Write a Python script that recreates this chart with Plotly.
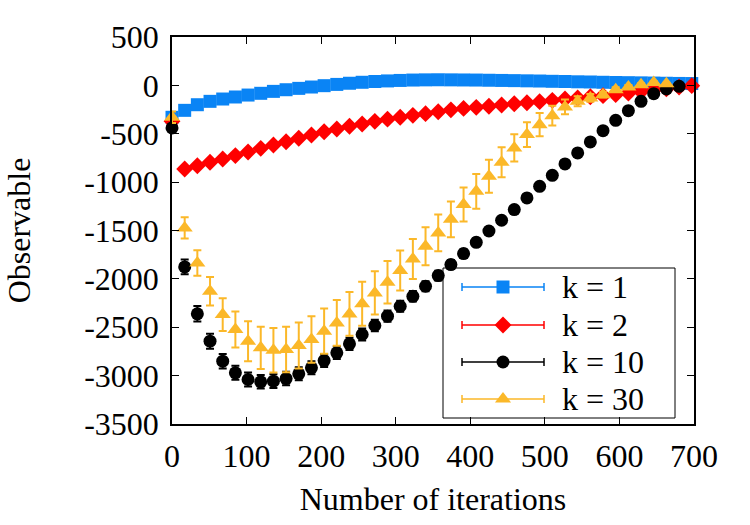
import plotly.graph_objects as go

iterations = [0, 17, 34, 51, 68, 85, 102, 119, 136, 153, 170, 187, 204, 221,
              238, 255, 272, 289, 306, 323, 340, 357, 374, 391, 408, 425, 442,
              459, 476, 493, 510, 527, 544, 561, 578, 595, 612, 629, 646, 663,
              680, 697]

k1_vals = [-330, -258, -200, -165, -141, -120, -100, -82, -62, -45, -31, -17,
           -3, 10, 22, 32, 40, 46, 51, 55, 57, 58, 57, 56, 55, 53, 51, 49,
           47, 45, 42, 40, 37, 35, 32, 30, 28, 26, 24, 22, 20, 19]
k1_err = [8] * 42

k2_vals = [-370, -864, -830, -795, -761, -726, -688, -651, -616, -582, -547,
           -513, -480, -451, -423, -399, -372, -349, -330, -310, -292, -272,
           -253, -238, -227, -215, -203, -190, -180, -168, -155, -141, -130,
           -117, -106, -95, -80, -63, -47, -35, -17, -3]
k2_err = [10] * 42

k10_vals = [-440, -1876, -2361, -2644, -2851, -2971, -3040, -3064, -3057,
            -3030, -2981, -2919, -2844, -2764, -2671, -2575, -2482, -2386,
            -2283, -2180, -2076, -1966, -1852, -1738, -1622, -1505, -1394,
            -1284, -1163, -1043, -930, -812, -698, -585, -468, -361, -261,
            -165, -86, -37, -10]
k10_err = [30, 75, 80, 77, 75, 72, 72, 70, 70, 70, 68, 68, 66, 65, 63, 62,
           60, 58, 56, 54, 52, 50, 47, 44, 41, 38, 35, 32, 30, 28, 26, 24, 22,
           20, 18, 16, 14, 12, 10, 10, 10]

k30_vals = [-330, -1473, -1835, -2128, -2369, -2524, -2644, -2713, -2737,
            -2730, -2689, -2627, -2541, -2455, -2362, -2258, -2145, -2035,
            -1914, -1794, -1663, -1525, -1385, -1232, -1095, -940, -795, -647,
            -509, -406, -313, -223, -165, -130, -96, -44, -17, 7, 31, 18]
k30_err = [60, 110, 132, 148, 169, 186, 207, 219, 230, 235, 238, 240, 234,
           236, 227, 227, 224, 219, 207, 207, 196, 190, 184, 176, 180, 170,
           155, 141, 127, 120, 103, 76, 52, 40, 30, 25, 20, 15, 12, 10]

x_ticks = [0, 100, 200, 300, 400, 500, 600, 700]
y_ticks = [500, 0, -500, -1000, -1500, -2000, -2500, -3000, -3500]
y_tick_text = ["500", "0", "-500", "-1000", "-1500", "-2000", "-2500",
               "-3000", "-3500"]

labels = ["k = 1", "k = 2", "k = 10", "k = 30"]
colors = ["#0a84f5", "#ff0000", "#000000", "#fbb829"]
symbols = ["square", "diamond", "circle", "triangle-up"]
sizes = [13, 13, 13, 14]

FONT = "Liberation Serif, Times New Roman, serif"
FS = 32

fig = go.Figure()

series = [
    (k1_vals, k1_err),
    (k2_vals, k2_err),
    (k10_vals, k10_err),
    (k30_vals, k30_err),
]

for (vals, err), lab, col, sym, sz in zip(series, labels, colors, symbols, sizes):
    fig.add_trace(go.Scatter(
        x=iterations[:len(vals)], y=vals, mode="markers", name=lab,
        marker=dict(symbol=sym, size=sz, color=col, line=dict(width=0)),
        error_y=dict(type="data", array=err, visible=True, color=col,
                     thickness=2, width=4),
        cliponaxis=False, showlegend=False,
    ))

# custom legend (gnuplot-like), drawn on an overlay axis in pixel units
row_y = [287, 325, 362, 399]
for lab, col, sym, sz, ry in zip(labels, colors, symbols, sizes, row_y):
    fig.add_trace(go.Scatter(
        x=[503], y=[ry], mode="markers", xaxis="x2", yaxis="y2",
        marker=dict(symbol=sym, size=sz, color=col, line=dict(width=0)),
        error_x=dict(type="constant", value=41, visible=True, color=col,
                     thickness=1.5, width=4),
        cliponaxis=False, showlegend=False, hoverinfo="skip",
    ))
    fig.add_annotation(x=560, y=ry, xref="x2", yref="y2", text=lab,
                       showarrow=False, xanchor="left", yanchor="middle",
                       font=dict(family=FONT, size=FS, color="black"))

fig.add_shape(type="rect", xref="x2", yref="y2", x0=443, x1=675, y0=268,
              y1=418, line=dict(color="black", width=1), fillcolor="white",
              layer="below")

axis_common = dict(
    showline=True, linecolor="black", linewidth=1.5, mirror="ticks",
    ticks="inside", ticklen=7, tickwidth=1, tickcolor="black",
    showgrid=False, zeroline=False,
    tickfont=dict(family=FONT, size=FS, color="black"),
)

fig.update_layout(
    width=750, height=525,
    margin=dict(l=172, r=56, t=37, b=101),
    paper_bgcolor="white", plot_bgcolor="white",
    font=dict(family=FONT, size=FS, color="black"),
    xaxis=dict(range=[0, 700], tickmode="array", tickvals=x_ticks,
               ticktext=[str(v) for v in x_ticks], ticklabelstandoff=3,
               title=dict(text="Number of iterations", standoff=14,
                          font=dict(family=FONT, size=FS)),
               **axis_common),
    yaxis=dict(range=[-3500, 500], tickmode="array", tickvals=y_ticks,
               ticktext=y_tick_text, ticklabelstandoff=5,
               title=dict(text="Observable", standoff=44,
                          font=dict(family=FONT, size=FS)),
               **axis_common),
    xaxis2=dict(range=[172, 694], overlaying="x", anchor="y2", visible=False,
                fixedrange=True),
    yaxis2=dict(range=[424, 37], overlaying="y", anchor="x2", visible=False,
                fixedrange=True),
)

fig.write_html("out.html")
